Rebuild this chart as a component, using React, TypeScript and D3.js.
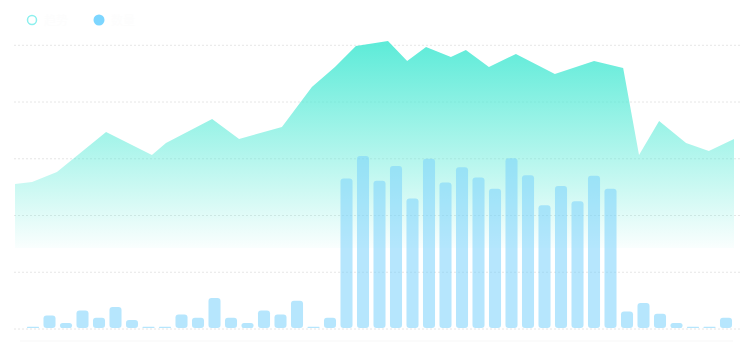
import React from "react";
import * as d3 from "d3";

const W = 750;
const H = 356;

// Bar series (count per category)
const barCategories: string[] = Array.from({ length: 43 }, (_, i) => `${i + 1}`);
const barValues: number[] = [
  0, 2.2, 0.9, 3.1, 1.8, 3.7, 1.4, 0, 0, 2.4,
  1.8, 5.3, 1.8, 0.9, 3.1, 2.4, 4.8, 0, 1.8, 26.4,
  30.4, 26.0, 28.6, 22.9, 29.9, 25.7, 28.4, 26.6, 24.6, 30.0,
  27.0, 21.7, 25.1, 22.4, 26.9, 24.6, 2.9, 4.4, 2.5, 0.9,
  0, 0, 1.8,
];

// Area series (time in hours, value)
const lineTimes: number[] = [
  0, 0.57, 1.4, 3.04, 4.57, 5.04, 6.58, 7.48, 8.91, 9.91,
  10.68, 11.38, 12.45, 13.09, 13.72, 14.55, 15.05, 15.82, 16.72, 18.02,
  19.33, 20.3, 20.83, 21.5, 22.4, 23.16, 24,
];
const lineValues: number[] = [
  30.5, 31.4, 36.2, 55.2, 44.3, 50.0, 61.4, 51.9, 57.6, 76.7,
  86.2, 96.2, 98.6, 89.0, 95.7, 91.0, 94.3, 86.2, 92.4, 82.9,
  89.0, 85.7, 44.3, 60.5, 50.0, 46.2, 51.9,
];

const gridTicks: number[] = [0, 10, 20, 30, 40, 50];
const legendLabels: string[] = ["趋势", "数量"];

export default function App() {
  const yGrid = d3.scaleLinear().domain([0, 50]).range([329, 45.3]);
  const yBar = d3.scaleLinear().domain([0, 50]).range([328, 45]);
  const xBar = d3
    .scaleBand<string>()
    .domain(barCategories)
    .range([24.75, 734.25])
    .paddingInner(0.27)
    .paddingOuter(0.135);

  const xLine = d3.scaleLinear().domain([0, 24]).range([15, 734]);
  const yLine = d3.scaleLinear().domain([0, 100]).range([248, 38]);

  const area = d3
    .area<number>()
    .x((_, i) => xLine(lineTimes[i]))
    .y0(yLine(0))
    .y1((d) => yLine(d))
    .curve(d3.curveLinear);

  return (
    <svg
      width={W}
      height={H}
      style={{ position: "absolute", left: 0, top: 0, fontFamily: "Noto Sans CJK SC, Noto Sans, sans-serif" }}
    >
      <defs>
        <linearGradient id="areaGrad" x1="0" y1="0" x2="0" y2="1">
          <stop offset="0" stopColor="rgb(84,234,214)" stopOpacity={0.95} />
          <stop offset="0.55" stopColor="rgb(84,234,214)" stopOpacity={0.45} />
          <stop offset="1" stopColor="rgb(84,234,214)" stopOpacity={0.03} />
        </linearGradient>
      </defs>

      {/* grid */}
      {gridTicks.map((t) => (
        <line
          key={t}
          x1={14}
          x2={741}
          y1={yGrid(t)}
          y2={yGrid(t)}
          stroke="#e6e6e6"
          strokeWidth={1}
          strokeDasharray="2 2"
        />
      ))}

      {/* faint axis band */}
      <line x1={20} x2={733} y1={341} y2={341} stroke="#fbfbfb" strokeWidth={2} />

      {/* area */}
      <path d={area(lineValues) || ""} fill="url(#areaGrad)" />

      {/* bars */}
      {barValues.map((v, i) => {
        const x = xBar(barCategories[i]) as number;
        const y = yBar(v);
        const h = Math.max(1.2, yBar(0) - y);
        return (
          <rect
            key={i}
            x={x}
            y={yBar(0) - h}
            width={xBar.bandwidth()}
            height={h}
            rx={h > 6 ? 3 : Math.min(3, h / 2)}
            fill="rgba(122,210,252,0.55)"
          />
        );
      })}

      {/* legend */}
      <circle cx={32} cy={20} r={4.5} fill="#fff" stroke="#8cf0ee" strokeWidth={1.5} />
      <text x={44} y={24.5} fontSize={12} fill="#fdfdfd">
        {legendLabels[0]}
      </text>
      <circle cx={99} cy={20} r={5.5} fill="#7dd6ff" />
      <text x={111} y={24.5} fontSize={12} fill="#fdfdfd">
        {legendLabels[1]}
      </text>
    </svg>
  );
}
